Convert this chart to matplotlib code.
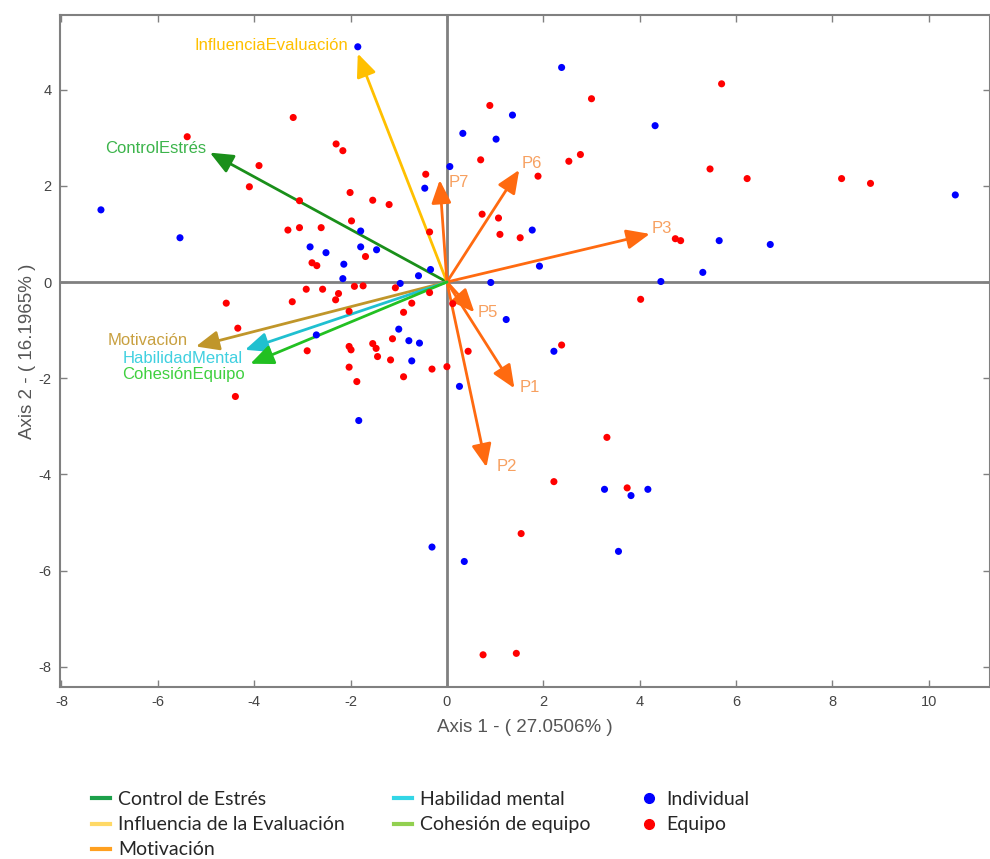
import matplotlib
matplotlib.use('Agg')
import matplotlib.pyplot as plt
from matplotlib.lines import Line2D

plt.rcParams['font.family'] = ['Liberation Sans', 'DejaVu Sans']
plt.rcParams['axes.unicode_minus'] = False

# scores
individual_x = [-1.85, 2.38, 4.32, 1.36, 0.33, 1.02, 0.06, -0.46, -7.18, -5.54,
                -1.79, -2.84, -2.51, -1.79, -1.46, -2.14, -2.16, -0.34, -0.59, -0.97,
                0.91, 1.77, 1.92, 5.65, 6.71, 5.31, 4.44, 10.55, 1.23, 2.22,
                0.26, 3.27, 3.82, 4.17, 3.56, 0.36, -0.31, -1.83, -2.71, -1.00,
                -0.79, -0.57, -0.73]
individual_y = [4.89, 4.46, 3.25, 3.47, 3.09, 2.97, 2.40, 1.95, 1.50, 0.92,
                1.06, 0.73, 0.61, 0.73, 0.67, 0.37, 0.07, 0.26, 0.13, -0.03,
                -0.01, 1.08, 0.33, 0.86, 0.78, 0.20, 0.01, 1.81, -0.78, -1.44,
                -2.17, -4.31, -4.44, -4.31, -5.60, -5.81, -5.51, -2.88, -1.10, -0.98,
                -1.22, -1.27, -1.64]

equipo_x = [5.70, 3.00, 0.89, -3.19, -5.39, -2.30, -2.16, -3.90, 0.70, 2.77,
            2.53, 1.89, 5.46, 6.23, 8.19, 8.79, -0.44, -4.10, -2.01, -1.54,
            -1.20, -3.06, 0.73, 1.07, 1.10, 1.52, 4.74, 4.85, -1.98, -3.30,
            -3.06, -2.61, -0.36, -1.69, -2.80, -2.70, -2.92, -2.58, -2.25, -1.92,
            -1.74, -1.07, -0.36, -4.58, -4.34, -4.39, -3.21, -2.31, -2.03, -2.90,
            -2.03, -1.99, -1.54, -1.47, -1.44, -1.17, -2.03, -1.87, -1.13, -0.90,
            -0.73, -0.90, -0.31, 0.00, 0.44, 0.12, 4.02, 2.38, 3.32, 2.22,
            3.74, 1.54, 0.75, 1.44]
equipo_y = [4.12, 3.81, 3.67, 3.42, 3.02, 2.87, 2.73, 2.42, 2.54, 2.65,
            2.51, 2.20, 2.35, 2.15, 2.15, 2.05, 2.24, 1.98, 1.86, 1.70,
            1.61, 1.69, 1.41, 1.33, 0.99, 0.92, 0.90, 0.86, 1.27, 1.08,
            1.13, 1.13, 1.04, 0.53, 0.40, 0.34, -0.15, -0.15, -0.24, -0.09,
            -0.08, -0.12, -0.22, -0.44, -0.96, -2.38, -0.41, -0.37, -0.61, -1.43,
            -1.34, -1.41, -1.28, -1.38, -1.55, -1.62, -1.77, -2.07, -1.18, -0.63,
            -0.44, -1.97, -1.81, -1.76, -1.44, -0.45, -0.36, -1.31, -3.23, -4.15,
            -4.28, -5.23, -7.75, -7.72]

# loadings (arrow tips)
var_names = ['ControlEstrés', 'InfluenciaEvaluación', 'P7', 'P6', 'P3', 'P5', 'P1', 'P2',
             'Motivación', 'HabilidadMental', 'CohesiónEquipo']
var_x = [-4.92, -1.85, -0.15, 1.50, 4.21, 0.57, 1.40, 0.82, -5.21, -4.19, -4.08]
var_y = [2.69, 4.75, 2.12, 2.33, 1.00, -0.63, -2.21, -3.85, -1.34, -1.41, -1.70]
var_colors = ['#1a8f1a', '#ffc000', '#ff6a10', '#ff6a10', '#ff6a10', '#ff6a10', '#ff6a10',
              '#ff6a10', '#c0962a', '#20c0d0', '#22c022']
label_colors = ['#3cb44b', '#ffc000', '#f7a060', '#f7a060', '#f7a060', '#f7a060', '#f7a060',
                '#f7a060', '#c8a040', '#40d0e0', '#40d040']

legend_names = ['Control de Estrés', 'Influencia de la Evaluación', 'Motivación',
                'Habilidad mental', 'Cohesión de equipo']
legend_colors = ['#1ca04a', '#ffd966', '#ffa020', '#33d6e6', '#92d050']

fig = plt.figure(figsize=(9.9, 8.59), dpi=100)
ax = fig.add_axes([0.0606, 0.2002, 0.9394, 0.7823])

ax.axhline(0, color='#808080', lw=2, zorder=1)
ax.axvline(0, color='#808080', lw=2, zorder=1)

# arrows and their labels
for name, x, y, c in zip(var_names, var_x, var_y, var_colors):
    ax.annotate('', xy=(x, y), xytext=(0, 0),
                arrowprops=dict(arrowstyle='-|>,head_length=0.7,head_width=0.3',
                                color=c, lw=2, mutation_scale=20, shrinkA=0, shrinkB=0),
                zorder=2)

label_pos = {
    'ControlEstrés': (-5.0, 2.78, 'right'),
    'InfluenciaEvaluación': (-2.05, 4.91, 'right'),
    'P7': (0.04, 2.06, 'left'),
    'P6': (1.54, 2.47, 'left'),
    'P3': (4.25, 1.12, 'left'),
    'P5': (0.64, -0.64, 'left'),
    'P1': (1.51, -2.20, 'left'),
    'P2': (1.04, -3.83, 'left'),
    'Motivación': (-5.37, -1.21, 'right'),
    'HabilidadMental': (-6.74, -1.58, 'left'),
    'CohesiónEquipo': (-6.74, -1.93, 'left'),
}
for name, c in zip(var_names, label_colors):
    lx, ly, ha = label_pos[name]
    ax.text(lx, ly, name, color=c, fontsize=12, ha=ha, va='center', zorder=4)

ax.scatter(individual_x, individual_y, s=26, color='#0000ff', edgecolors='none', zorder=3)
ax.scatter(equipo_x, equipo_y, s=26, color='#ff0000', edgecolors='none', zorder=3)

ax.set_xlim(-8.03, 11.27)
ax.set_ylim(-8.42, 5.55)
ax.set_xticks(range(-8, 11, 2))
ax.set_yticks(range(-8, 5, 2))
ax.tick_params(direction='in', top=True, right=True, length=5, width=1, pad=6,
               color='#808080', labelsize=10.5, labelcolor='#444444')
for sp in ax.spines.values():
    sp.set_color('#808080')
    sp.set_linewidth(1.5)

ax.set_xlabel('Axis 1 - ( 27.0506% )', fontsize=13.5, color='#555555', labelpad=7)
ax.set_ylabel('Axis 2 - ( 16.1965% )', fontsize=13.5, color='#555555', labelpad=2)

handles = [Line2D([], [], color=c, lw=3) for c in legend_colors]
handles += [Line2D([], [], color='#0000ff', marker='o', ls='none', markersize=7),
            Line2D([], [], color='#ff0000', marker='o', ls='none', markersize=7)]
labels = legend_names + ['Individual', 'Equipo']
fig.legend(handles, labels, loc='upper left', bbox_to_anchor=(0.093, 0.079), ncol=3,
           frameon=False, handlelength=0.93, handletextpad=0.4,
           columnspacing=2.55, labelspacing=0.42, borderpad=0, borderaxespad=0,
           prop={'family': 'Lato', 'size': 14}, labelcolor='#262626')

fig.savefig('out.png', dpi=100)
